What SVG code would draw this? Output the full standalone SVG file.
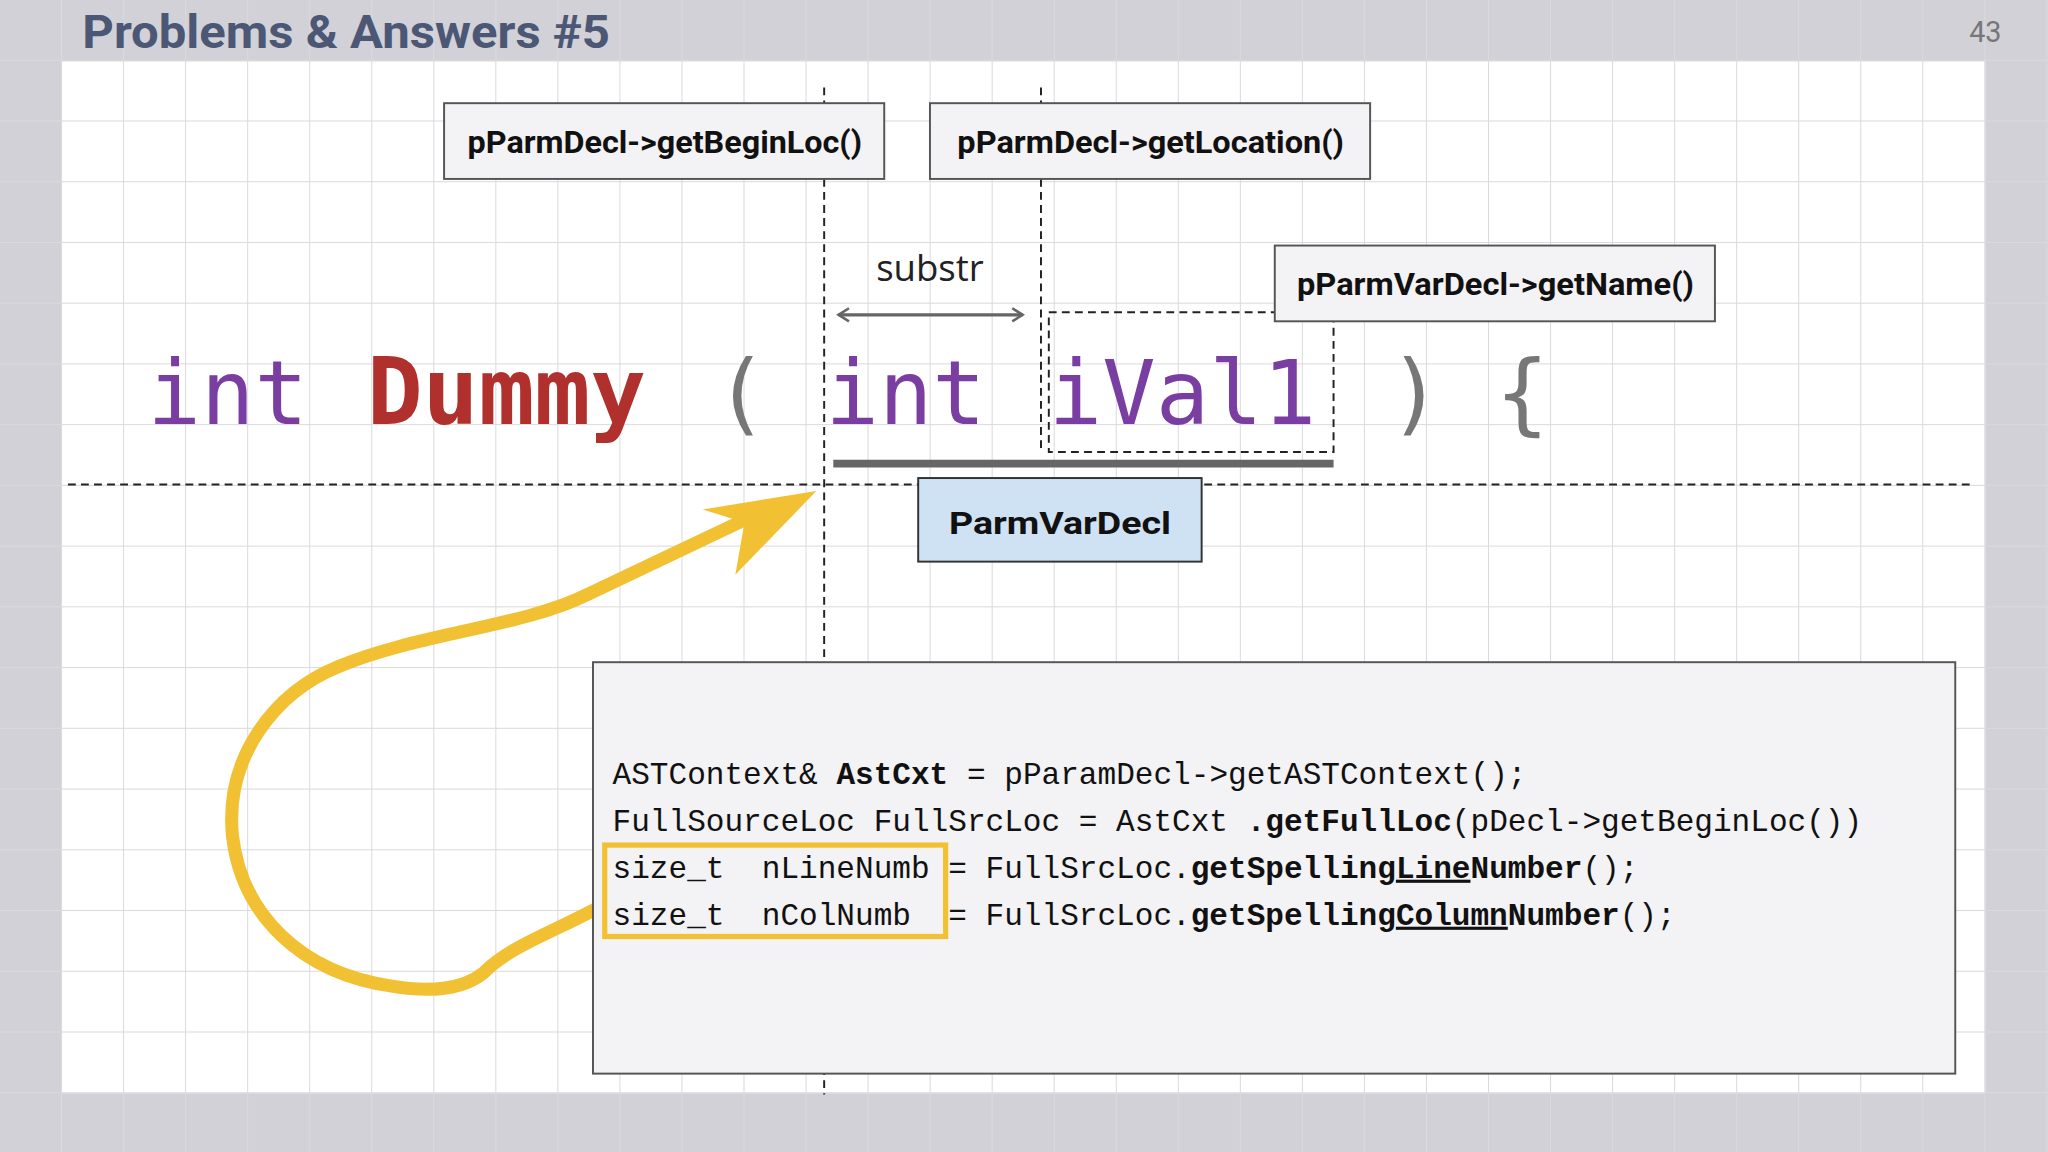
<svg xmlns="http://www.w3.org/2000/svg" width="2048" height="1152" viewBox="0 0 2048 1152">
<defs>
<pattern id="grid" width="47.5" height="46.5" patternUnits="userSpaceOnUse">
<path d="M47.5 0V46.5M0 46.5H47.5" fill="none" stroke="#d9d9de" stroke-width="1.5"/>
</pattern>
<marker id="ah" viewBox="0 0 12 12" refX="10" refY="6" markerWidth="12" markerHeight="12" markerUnits="userSpaceOnUse" orient="auto-start-reverse">
<path d="M2 1L10 6L2 11" fill="none" stroke="#666" stroke-width="2"/>
</marker>
<style>
.lbl{font-family:Roboto,"Noto Sans",sans-serif;font-weight:bold;font-size:24px;fill:#111;text-anchor:middle}
.box{fill:#f3f2f5;stroke:#555;stroke-width:1.5}
.big{font-family:"DejaVu Sans Mono",monospace;font-size:68px}
.code{font-family:"Liberation Mono","DejaVu Sans Mono",monospace;font-size:23.8px;fill:#111}
.b{font-weight:bold}
.u{font-weight:bold;text-decoration:underline}
.dash{stroke:#222;stroke-width:1.5;stroke-dasharray:6 4;fill:none}
</style>
</defs>
<g transform="scale(1.30612)">
<rect width="1568" height="882" fill="#d1d1d7"/>
<rect x="47.5" y="47" width="1472.5" height="790" fill="#ffffff"/>
<rect width="1568" height="882" fill="url(#grid)"/>
<text x="63" y="37" font-family="Roboto,'Noto Sans',sans-serif" font-weight="bold" font-size="35" fill="#4b5775" textLength="404" lengthAdjust="spacingAndGlyphs">Problems &amp; Answers #5</text>
<text x="1520" y="32" font-family="Roboto,sans-serif" font-size="22" fill="#777" text-anchor="middle">43</text>

<g id="guides">
<line class="dash" x1="631" y1="67" x2="631" y2="838"/>
<line class="dash" x1="797" y1="67" x2="797" y2="345"/>
<line class="dash" x1="52" y1="371" x2="1512" y2="371"/>
</g>

<g id="code-line">
<text class="big" y="325"><tspan x="113" fill="#7a3ea3">int</tspan><tspan x="281" fill="#b0302e" font-weight="bold" font-size="71">Dummy</tspan><tspan x="547" fill="#777">(</tspan><tspan x="632" fill="#7a3ea3">int</tspan><tspan x="803" fill="#7a3ea3">iVal1</tspan><tspan x="1063" fill="#777">)</tspan><tspan x="1145" fill="#777">{</tspan></text>
<rect x="803" y="239" width="218" height="107" class="dash" stroke="#333"/>
<line x1="638" y1="355" x2="1021" y2="355" stroke="#666" stroke-width="6"/>
</g>

<g id="n-beginloc"><rect class="box" x="340" y="79" width="337" height="58"/><text class="lbl" x="509" y="117" textLength="302" lengthAdjust="spacingAndGlyphs">pParmDecl-&gt;getBeginLoc()</text></g>
<g id="n-location"><rect class="box" x="712" y="79" width="337" height="58"/><text class="lbl" x="881" y="117" textLength="296" lengthAdjust="spacingAndGlyphs">pParmDecl-&gt;getLocation()</text></g>
<g id="n-getname"><rect class="box" x="976" y="188" width="337" height="58"/><text class="lbl" x="1145" y="226" textLength="304" lengthAdjust="spacingAndGlyphs">pParmVarDecl-&gt;getName()</text></g>
<g id="n-parmvardecl"><rect x="703" y="366" width="217" height="64" fill="#cfe2f3" stroke="#333" stroke-width="1.5"/><text class="lbl" x="811.5" y="409" font-size="26" textLength="170" lengthAdjust="spacingAndGlyphs">ParmVarDecl</text></g>

<g id="connectors">
<line x1="642" y1="241" x2="783" y2="241" stroke="#666" stroke-width="2.5" marker-start="url(#ah)" marker-end="url(#ah)"/>
<text x="712" y="215" font-family="'Open Sans',sans-serif" font-size="28" fill="#222" text-anchor="middle">substr</text>
<path d="M454,697 C420,715 390,725 370,745 C355,757 330,760 300,755 C230,745 185,700 178,640 C172,580 210,530 260,510 C320,485 400,480 450,455 L570,398" fill="none" stroke="#f2c133" stroke-width="10" stroke-linecap="round"/>
<polygon points="625,376 538,390 570,400 563,440" fill="#f2c133"/>
</g>

<g id="n-code">
<rect x="454" y="507" width="1043" height="315" class="box"/>
<text class="code" x="469" y="600">ASTContext&amp; <tspan class="b">AstCxt</tspan> = pParamDecl-&gt;getASTContext();</text>
<text class="code" x="469" y="636">FullSourceLoc FullSrcLoc = AstCxt <tspan class="b">.getFullLoc</tspan>(pDecl-&gt;getBeginLoc())</text>
<text class="code" x="469" y="672" xml:space="preserve">size_t  nLineNumb = FullSrcLoc.<tspan class="b">getSpelling</tspan><tspan class="u">Line</tspan><tspan class="b">Number</tspan>();</text>
<text class="code" x="469" y="708" xml:space="preserve">size_t  nColNumb  = FullSrcLoc.<tspan class="b">getSpelling</tspan><tspan class="u">Column</tspan><tspan class="b">Number</tspan>();</text>
<rect x="463" y="647" width="261" height="70" fill="none" stroke="#f2c133" stroke-width="4"/>
</g>
</g>
</svg>
